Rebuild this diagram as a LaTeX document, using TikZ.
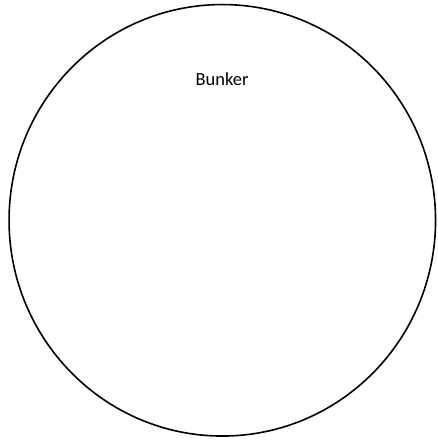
\documentclass[tikz,border=0pt]{standalone}
\usepackage{fontspec}
\setmainfont{Carlito}
\usetikzlibrary{positioning, shapes.geometric}
\tikzset{bunkerwall/.style={draw=black, line width=1.6pt},
  bunkerlabel/.style={font=\fontsize{18.5}{22}\selectfont, inner sep=0pt}}
\begin{document}
\begin{tikzpicture}[x=1pt, y=1pt]
\useasboundingbox (0,0) rectangle (437,441);
% outline of the bunker
\node[bunkerwall, ellipse, minimum width=426.5pt, minimum height=431.5pt, inner sep=0pt] (bunker) at (222.3,220.7) {};
\node[bunkerlabel] (name) at (222,362) {Bunker};
\end{tikzpicture}
\end{document}
